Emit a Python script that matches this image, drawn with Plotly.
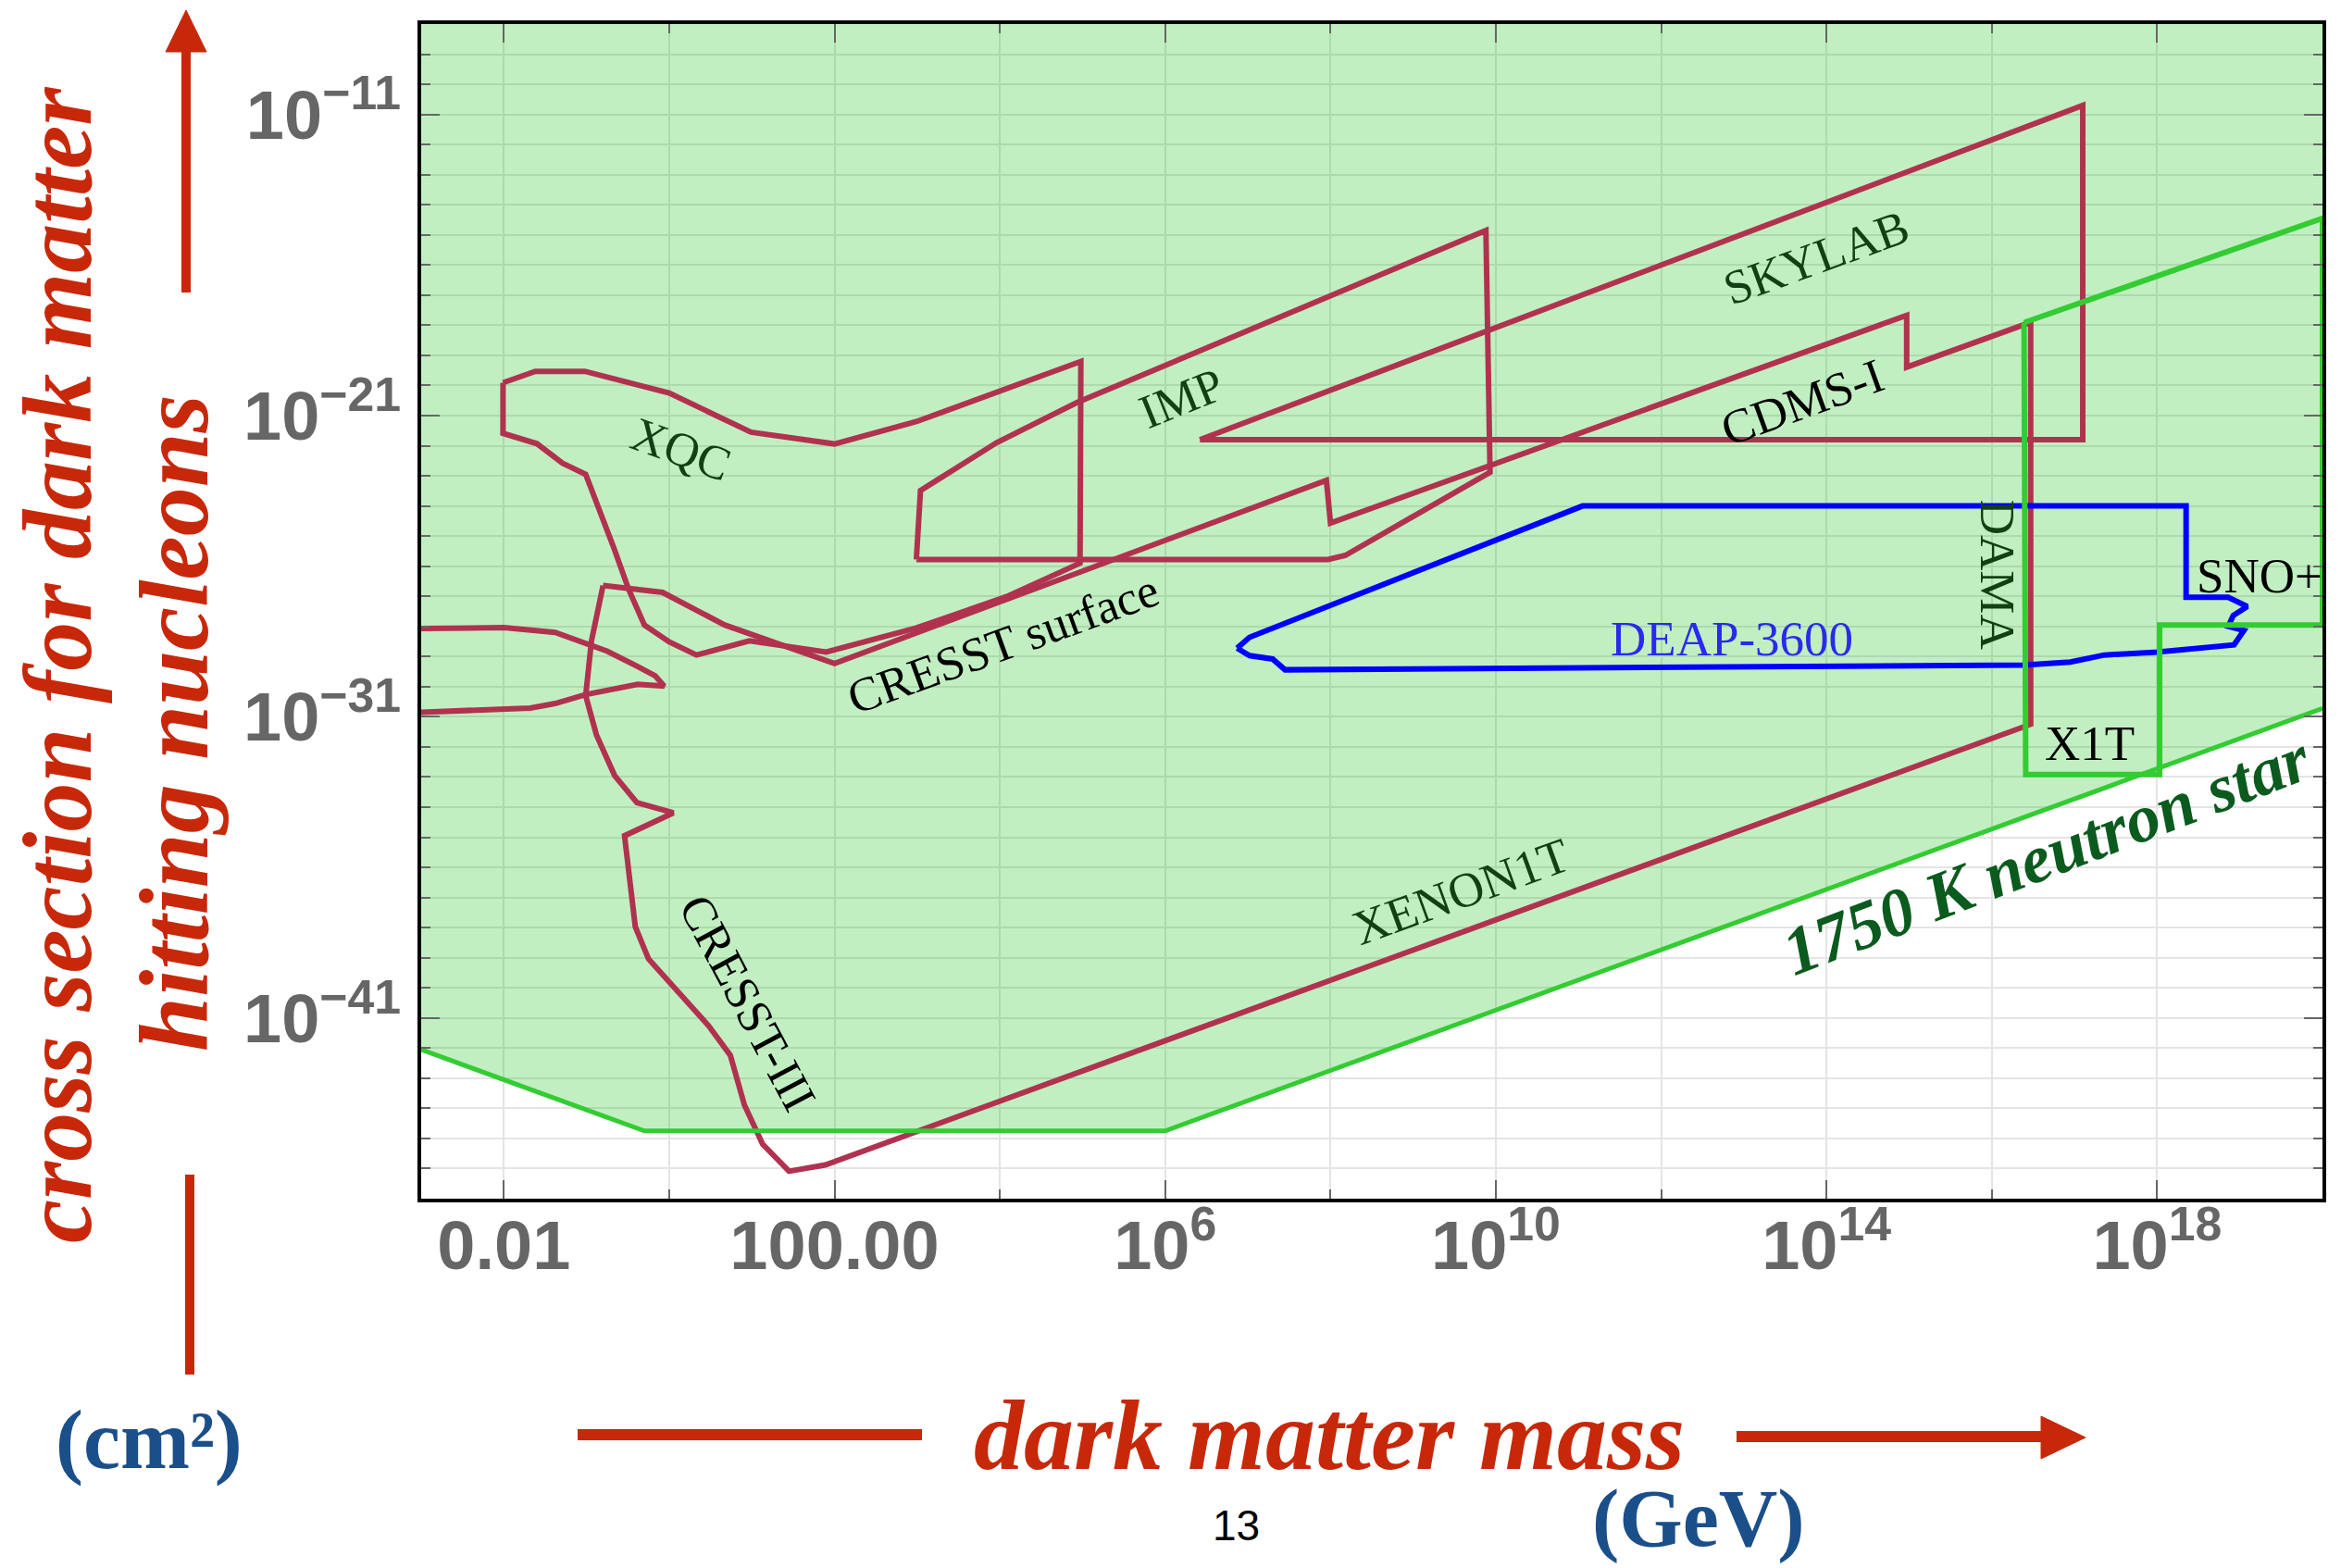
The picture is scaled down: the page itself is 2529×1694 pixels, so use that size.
import plotly.graph_objects as go

# ---------------------------------------------------------------------------
# Exclusion contours, stored as log10(m_DM / GeV) and log10(sigma / cm^2)
# ---------------------------------------------------------------------------
xqc_logm = [-2.01, -1.62, -1.02, 0.0, 0.99, 2.0, 2.99, 4.98, 4.97, 4.11, 2.99,
            1.90, 0.97, 0.33, 0.0, -0.30, -0.49, -0.67, -1.01, -1.29, -1.60,
            -2.01, -2.01]
xqc_logs = [-19.91, -19.53, -19.53, -20.25, -21.55, -21.94, -21.2, -19.2, -25.9,
            -26.98, -28.05, -28.85, -28.48, -28.95, -28.51, -27.95, -26.77,
            -25.39, -22.95, -22.58, -21.93, -21.59, -19.91]

# CRESST surface / CDMS-I / DAMA / XENON1T / CRESST-III combined outline
outline_logm = [-0.80, -0.08, 0.67, 2.0, 7.95, 8.0, 14.97, 14.97, 16.41, 16.47,
                16.47, 1.89, 1.45, 1.13, 0.91, 0.74, 0.48, 0.05, -0.25, -0.41,
                -0.54, 0.05, -0.39, -0.66, -0.88, -1.01, -0.94, -0.80]
outline_logs = [-26.64, -26.87, -27.95, -29.23, -23.15, -24.57, -17.67, -19.39,
                -17.96, -17.96, -31.25, -45.88, -46.09, -45.19, -43.89, -42.24,
                -41.27, -39.97, -39.04, -37.97, -34.95, -34.19, -33.85, -32.95,
                -31.60, -30.30, -28.48, -26.64]

lens_logm = [-3.0, -2.0, -1.38, -1.08, -0.75, -0.38, -0.17, -0.06, -0.38, -1.01,
             -1.38, -1.68, -2.39, -3.0]
lens_logs = [-28.07, -28.04, -28.2, -28.48, -28.82, -29.33, -29.64, -29.98,
             -29.92, -30.26, -30.56, -30.71, -30.79, -30.85]

imp_logm = [2.99, 3.04, 3.96, 4.93, 9.88, 9.93, 8.18, 7.97, 2.99]
imp_logs = [-25.78, -23.49, -21.9, -20.57, -14.85, -22.88, -25.64, -25.78, -25.78]

skylab_logm = [6.42, 17.1, 17.1, 6.42]
skylab_logs = [-21.8, -10.7, -21.8, -21.8]

deap_logm = [6.87, 7.02, 11.05, 18.35, 18.35, 18.86, 19.09, 18.92, 18.86, 19.05,
             18.93, 18.0, 17.36, 16.95, 16.39, 7.45, 7.30, 7.02, 6.87]
deap_logs = [-28.72, -28.36, -24.0, -24.0, -27.03, -27.03, -27.34, -27.64, -28.0,
             -28.13, -28.61, -28.85, -28.95, -29.18, -29.28, -29.44, -29.08,
             -28.97, -28.72]

x1t_logm = [16.39, 20.0, 20.0, 18.03, 18.03, 16.41, 16.39]
x1t_logs = [-17.91, -14.45, -27.95, -27.95, -32.92, -32.92, -17.91]

# 1750 K neutron star sensitivity floor
ns_logm = [-3.0, -0.3, 6.0, 20.0]
ns_logs = [-42.05, -44.75, -44.75, -30.72]

# Axis ranges (log10) and ticks
x_range = [-3, 20]
y_range = [-47, -8]
x_major_exp = [-2, 2, 6, 10, 14, 18]
x_tick_text = ["0.01", "100.00", "10<sup>6</sup>", "10<sup>10</sup>",
               "10<sup>14</sup>", "10<sup>18</sup>"]
x_minor_exp = [0, 4, 8, 12, 16]
y_major_exp = [-41, -31, -21, -11]
y_tick_text = ["10<sup>\u221241</sup>", "10<sup>\u221231</sup>",
               "10<sup>\u221221</sup>", "10<sup>\u221211</sup>"]
y_minor_exp = list(range(-46, -8))

# Region labels: text, log10 m, log10 sigma, angle, colour, size
labels = [
    ("XQC", 0.15, -22.11, 20, "#123f14", 52),
    ("IMP", 6.19, -20.42, -22, "#123f14", 52),
    ("CRESST surface", 4.04, -28.57, -20, "black", 52),
    ("CRESST-III", 0.95, -40.5, 62, "black", 52),
    ("SKYLAB", 13.87, -15.75, -20, "#123f14", 52),
    ("CDMS-I", 13.71, -20.55, -20, "black", 52),
    ("XENON1T", 9.58, -36.8, -20, "#123f14", 53),
    ("DEAP-3600", 12.86, -28.41, 0, "#2a2aee", 53),
    ("DAMA", 16.07, -26.28, 90, "#123f14", 53),
    ("X1T", 17.18, -31.89, 0, "black", 53),
    ("SNO+", 19.24, -26.33, 0, "black", 53),
]

CRIMSON = "#b0324f"
BLUE = "#0000ff"
LIME = "#33cc33"
FILL = "rgba(0,190,0,0.24)"
GRID = "rgb(228,228,228)"
RED = "#c8280a"
NAVY = "#1a4f8a"
SERIF = "Liberation Serif"
SANS = "Liberation Sans"


def pw(v):
    return [10.0 ** e for e in v]


fig = go.Figure()

# Shaded region above the neutron star floor
fill_m = ns_logm + [x_range[1], x_range[0]]
fill_s = ns_logs + [y_range[1], y_range[1]]
fig.add_trace(go.Scatter(x=pw(fill_m), y=pw(fill_s), fill="toself",
                         fillcolor=FILL, line=dict(width=0), mode="lines",
                         hoverinfo="skip"))

for m, s in [(xqc_logm, xqc_logs), (outline_logm, outline_logs),
             (lens_logm, lens_logs), (imp_logm, imp_logs),
             (skylab_logm, skylab_logs)]:
    fig.add_trace(go.Scatter(x=pw(m), y=pw(s), mode="lines",
                             line=dict(color=CRIMSON, width=6)))

fig.add_trace(go.Scatter(x=pw(deap_logm), y=pw(deap_logs), mode="lines",
                         line=dict(color=BLUE, width=6)))
fig.add_trace(go.Scatter(x=pw(x1t_logm), y=pw(x1t_logs), mode="lines",
                         line=dict(color=LIME, width=6)))
fig.add_trace(go.Scatter(x=pw(ns_logm), y=pw(ns_logs), mode="lines",
                         line=dict(color=LIME, width=5)))

for text, lm, ls, ang, col, size in labels:
    fig.add_annotation(x=lm, y=ls, xref="x", yref="y", text=text,
                       showarrow=False, textangle=ang,
                       xanchor="center", yanchor="middle",
                       font=dict(family=SERIF, size=size, color=col))

fig.add_annotation(x=16.66, y=-35.57, xref="x", yref="y",
                   text="1750 K neutron star", showarrow=False, textangle=-21,
                   xanchor="center", yanchor="middle",
                   font=dict(family=SERIF, size=73, color="#0b5a1e",
                             weight="bold", style="italic"))

# ---------------------------------------------------------------------------
# Decorations outside the plotting area (pixel positions -> paper units)
# ---------------------------------------------------------------------------
PL, PR, PT, PB = 455, 2509, 26, 1295


def px(X):
    return (X - PL) / (PR - PL)


def py(Y):
    return (PB - Y) / (PB - PT)


def paper_text(X, Y, text, size, color, angle=0, bold=False, italic=False,
               family=SERIF):
    fig.add_annotation(x=px(X), y=py(Y), xref="paper", yref="paper", text=text,
                       showarrow=False, textangle=angle, xanchor="center",
                       yanchor="middle",
                       font=dict(family=family, size=size, color=color,
                                 weight="bold" if bold else "normal",
                                 style="italic" if italic else "normal"))


paper_text(62, 718, "cross section for dark matter", 106, RED, -90, True, True)
paper_text(188, 781, "hitting nucleons", 106, RED, -90, True, True)
paper_text(161, 1556, "(cm\u00b2)", 90, NAVY, bold=True)
paper_text(1436, 1550, "dark matter mass", 108, RED, bold=True, italic=True)
paper_text(1835, 1640, "(GeV)", 88, NAVY, bold=True)
paper_text(1335, 1648, "13", 46, "black", family=SANS)


def bar(x0, y0, x1, y1, w):
    fig.add_shape(type="line", xref="paper", yref="paper", x0=px(x0),
                  y0=py(y0), x1=px(x1), y1=py(y1),
                  line=dict(color=RED, width=w))


def head(pts):
    path = "M " + " L ".join(f"{px(a)},{py(b)}" for a, b in pts) + " Z"
    fig.add_shape(type="path", xref="paper", yref="paper", path=path,
                  fillcolor=RED, line=dict(color=RED, width=1))


bar(201, 316, 201, 52, 10)
head([(201, 11), (179, 56), (223, 56)])
bar(205, 1269, 205, 1485, 10)
bar(624, 1550, 996, 1550, 12)
bar(1876, 1552, 2210, 1552, 12)
head([(2253, 1553), (2205, 1530), (2205, 1576)])

tickfont = dict(family=SANS, size=74, color="#666666", weight="bold")
common = dict(type="log", tickmode="array", ticks="inside", ticklen=20,
              tickwidth=2, tickcolor="#666666", showline=True,
              linecolor="black", linewidth=4, mirror="allticks",
              showgrid=True, gridcolor=GRID, gridwidth=1.5, zeroline=False,
              tickfont=tickfont)

fig.update_layout(
    width=2529, height=1694,
    margin=dict(l=PL, r=2529 - PR, t=PT, b=1694 - PB),
    paper_bgcolor="white", plot_bgcolor="white",
    showlegend=False,
    xaxis=dict(range=x_range, tickvals=pw(x_major_exp), ticktext=x_tick_text,
               ticklabelstandoff=-17,
               minor=dict(tickmode="array", tickvals=pw(x_minor_exp),
                          ticks="inside", ticklen=10, tickwidth=2,
                          tickcolor="#666666", showgrid=True,
                          gridcolor=GRID, gridwidth=1.5),
               **common),
    yaxis=dict(range=y_range, tickvals=pw(y_major_exp), ticktext=y_tick_text,
               ticklabelstandoff=3,
               minor=dict(tickmode="array", tickvals=pw(y_minor_exp),
                          ticks="inside", ticklen=10, tickwidth=2,
                          tickcolor="#666666", showgrid=True,
                          gridcolor=GRID, gridwidth=1.5),
               **common),
)

fig.write_html("out.html")
